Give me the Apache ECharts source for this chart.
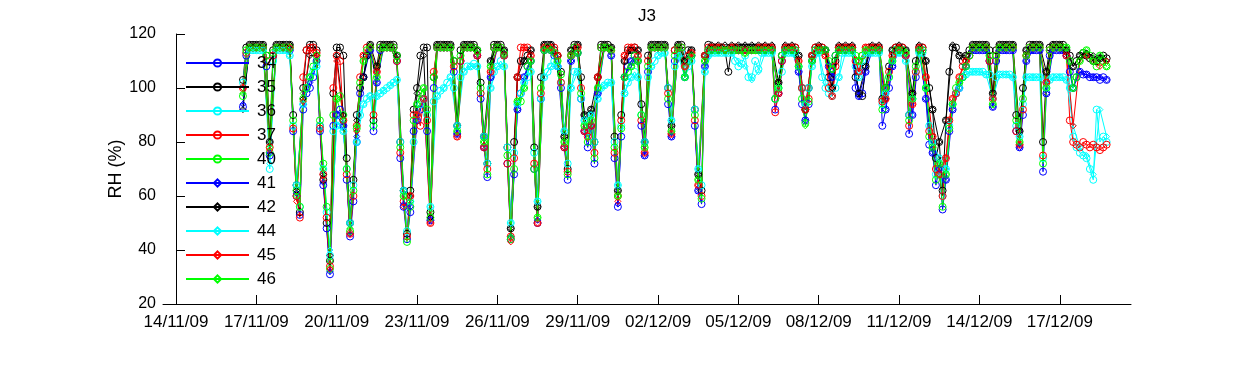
<!DOCTYPE html>
<html><head><meta charset="utf-8">
<script src="https://cdn.jsdelivr.net/npm/echarts@6/dist/echarts.min.js"></script>
<style>html,body{margin:0;padding:0;background:#fff}#c{width:1250px;height:365px}</style>
</head><body><div id="c"></div>
<script>
const chartTitle = 'J3';
const yAxisName = 'RH (%)';
// x axis: days since 14/11/09 00:00
const xTickDays = [0, 3, 6, 9, 12, 15, 18, 21, 24, 27, 30, 33];
const xTickLabels = ['14/11/09','17/11/09','20/11/09','23/11/09','26/11/09','29/11/09','02/12/09','05/12/09','08/12/09','11/12/09','14/12/09','17/12/09'];
const seriesNames = ['34','35','36','37','40','41','42','44','45','46'];
const seriesColors = ['#0000ff','#000000','#00ffff','#ff0000','#00ff00','#0000ff','#000000','#00ffff','#ff0000','#00ff00'];

// circle-marker sensors: readings every 3 h starting 16/11/09 12:00
const circleStartDay = 2.5, circleStepDay = 0.125;
const s34 = [93,112,115,115,
115,115,115,108,75,112,115,115,
115,115,114,84,60,53,92,98,
100,104,110,84,64,48,31,86,
90,92,86,66,45,58,80,98,
104,112,114,84,102,114,115,115,
115,115,110,74,56,44,54,84,
88,92,96,84,51,100,115,115,
115,115,115,106,83,110,115,115,
115,115,112,96,78,67,104,115,
115,115,112,72,44,68,92,98,
104,108,110,70,50,96,114,115,
114,112,108,100,78,66,110,115,
113,96,84,78,86,72,98,115,
115,115,112,74,56,82,104,108,
110,112,110,86,75,106,115,115,
115,115,115,94,82,110,115,115,
104,110,112,86,62,57,108,114,
114,114,114,114,114,114,114,114,
114,114,114,114,114,114,114,114,
114,114,114,92,98,110,114,114,
114,114,106,94,88,94,110,114,
114,114,114,108,104,112,114,114,
114,114,114,100,97,98,106,114,
114,114,114,86,92,100,108,114,
114,114,112,83,90,104,114,114,
96,79,76,64,70,55,66,84,
92,98,100,104,108,112,114,114,
114,114,114,110,93,110,114,114,
114,114,114,84,78,90,110,114,
114,114,114,69,98,112,114,114,
114,114,112,106,100,104,106,105,
105,104,104,104,103,104,103];
const s35 = [103,115,116,116,
116,116,116,112,80,114,116,116,
116,116,116,90,64,54,100,114,
116,116,114,86,66,50,36,98,
115,115,112,74,50,66,90,100,
104,112,116,88,108,116,116,116,
116,116,112,80,62,46,62,92,
100,112,115,115,54,104,116,116,
116,116,116,110,86,114,116,116,
116,116,114,102,82,72,110,116,
116,116,114,78,48,80,104,110,
110,112,114,78,56,104,116,116,
116,114,112,106,82,70,114,116,
116,104,90,84,92,80,104,116,
116,116,115,82,62,90,110,114,
114,115,114,94,80,112,116,116,
116,116,116,100,86,114,116,116,
110,114,114,92,68,62,112,116,
115,115,115,115,114,106,115,115,
115,115,115,115,115,115,115,115,
115,115,115,96,102,112,115,115,
115,115,112,100,92,100,112,115,
115,115,114,104,100,110,115,115,
115,115,115,104,98,97,108,115,
115,115,115,96,100,108,114,115,
115,115,114,90,98,110,115,115,
110,100,92,74,80,62,88,106,
115,115,112,110,112,114,116,116,
116,116,116,114,98,114,116,116,
116,116,116,90,84,100,114,116,
116,116,116,80,106,115,116,116,
116,116,114,112,108,110,112,113,
112,111,110,110,111,112,111];
const s36 = [102,113,114,114,
114,114,114,110,70,110,114,114,
114,114,112,86,64,56,94,100,
104,106,108,86,70,54,38,84,
86,88,84,70,50,64,80,90,
94,96,97,86,97,98,99,100,
101,102,103,80,62,47,58,80,
90,94,96,90,56,95,97,99,
100,102,104,100,86,104,106,108,
108,109,108,98,82,72,100,106,
108,110,108,78,50,76,94,98,
102,104,106,76,58,96,104,106,
108,110,108,102,84,72,100,106,
106,96,88,84,90,80,96,100,
101,102,102,80,64,86,98,102,
104,106,104,90,80,104,108,110,
112,113,113,100,88,108,112,113,
104,108,110,92,70,64,106,112,
113,113,113,113,113,113,113,110,
108,109,112,104,104,110,107,113,
113,113,113,96,100,106,113,113,
113,113,108,100,94,100,108,113,
113,104,100,98,97,100,104,113,
113,113,113,108,104,110,113,113,
113,113,113,94,98,104,110,113,
113,113,110,90,96,106,113,113,
100,86,80,68,74,60,70,86,
94,98,100,104,105,106,106,106,
106,106,105,105,96,104,105,105,
105,105,104,86,82,94,104,104,
104,104,104,74,100,103,104,104,
104,104,103,100,82,78,76,75,
74,70,66,92,80,82,80];
const s37 = [100,113,115,115,
115,115,115,110,78,112,115,115,
115,115,115,85,60,52,104,114,
115,115,113,85,68,52,34,100,
112,110,88,68,46,60,86,104,
112,115,115,90,106,115,115,115,
115,115,110,76,58,45,60,90,
90,86,96,88,50,106,115,115,
115,115,115,108,82,110,115,115,
115,115,112,98,78,70,106,115,
115,115,112,72,45,74,104,115,
115,115,112,72,50,98,115,115,
115,115,112,102,78,69,112,115,
115,100,84,82,86,76,104,115,
115,115,114,76,60,88,112,115,
115,115,112,88,76,110,115,115,
115,115,115,98,83,114,115,115,
108,112,113,88,64,60,112,115,
115,115,115,115,114,114,115,115,
114,114,114,114,114,114,115,115,
115,115,115,91,98,110,115,115,
115,115,110,100,92,96,112,115,
115,115,112,100,97,108,115,115,
115,115,115,110,106,112,115,115,
115,115,115,95,96,106,112,115,
115,115,112,86,94,106,115,115,
104,84,82,70,68,60,74,88,
96,98,104,108,110,112,115,115,
115,115,115,110,96,112,115,115,
115,115,115,84,79,92,112,115,
115,115,115,75,102,114,115,115,
115,115,112,88,80,79,78,80,
79,78,79,78,77,78,79];
const s40 = [97,114,115,115,
115,115,115,112,76,113,115,115,
115,115,115,88,62,56,96,100,
104,108,112,88,72,56,33,90,
96,97,90,70,47,62,85,102,
110,114,115,86,104,115,115,115,
115,115,112,78,60,43,56,88,
94,98,100,92,52,104,115,115,
115,115,115,110,84,112,115,115,
115,115,114,100,80,68,108,115,
115,115,113,75,44,70,95,95,
100,108,110,70,52,100,114,115,
114,113,110,105,80,68,112,115,
113,98,86,80,88,74,100,115,
115,115,114,78,60,85,104,106,
108,112,110,90,78,108,115,115,
115,115,115,96,84,112,115,115,
104,110,112,90,66,59,110,114,
114,114,114,114,114,114,114,114,
114,114,113,114,114,114,114,114,
114,114,114,96,100,112,114,114,
114,114,108,96,87,95,110,114,
114,114,114,110,107,112,114,114,
114,114,114,112,110,112,114,114,
114,114,114,92,100,104,110,114,
114,114,113,88,96,108,114,114,
100,82,78,66,72,56,68,85,
94,100,102,104,108,112,115,115,
115,115,115,112,94,112,115,115,
115,115,115,88,80,96,112,115,
115,115,115,72,100,114,115,115,
115,115,115,110,100,104,110,113,
114,112,110,108,112,110,108];

// diamond-marker sensors: readings every 6 h starting 16/11/09 12:00
const diamondStartDay = 2.5, diamondStepDay = 0.25;
const s41 = [94,115,
115,115,76,115, 115,114,61,94, 102,110,65,32, 90,86,46,82, 104,114,102,115,
115,110,57,56, 88,96,51,115, 115,115,83,115, 115,112,78,104, 115,112,45,92,
104,110,51,114, 114,108,78,110, 113,84,86,98, 115,112,57,104, 110,110,75,115,
115,115,82,115, 104,112,62,108, 114,114,114,114, 114,114,114,114, 114,114,98,114,
114,106,88,110, 114,114,104,114, 114,114,97,106, 114,114,92,108, 114,112,90,114,
96,76,70,66, 92,100,108,114, 114,114,93,114, 114,114,78,110, 114,114,98,114,
114,112,100,106, 105,104,104,103];
const s42 = [92,116,
116,116,80,116, 116,116,62,96, 112,112,68,38, 112,90,50,88, 104,116,108,116,
116,112,62,60, 98,112,52,116, 116,116,86,116, 116,114,82,110, 116,114,48,104,
110,114,56,116, 116,112,82,114, 116,90,92,104, 116,115,62,110, 114,114,80,116,
116,116,86,116, 110,114,68,112, 116,116,116,116, 116,116,116,116, 116,116,102,116,
116,112,92,112, 116,114,100,116, 116,116,98,108, 116,116,96,114, 116,114,98,116,
110,92,80,88, 116,112,112,116, 116,116,98,116, 116,116,84,114, 116,116,106,116,
116,114,108,112, 113,112,111,110];
const s44 = [100,114,
114,114,72,114, 114,112,64,94, 104,108,70,40, 86,84,50,80, 94,97,97,99,
101,103,62,58, 90,96,56,97, 100,104,86,106, 108,108,82,100, 108,108,50,94,
102,106,58,104, 108,108,84,100, 106,88,90,96, 101,102,64,98, 104,104,80,108,
112,113,88,112, 104,110,70,106, 113,113,113,113, 110,108,103,106, 113,113,100,113,
113,108,94,108, 113,102,97,104, 113,113,104,113, 113,113,98,110, 113,110,96,113,
100,80,74,70, 94,100,105,106, 106,105,96,105, 105,104,82,104, 104,104,100,104,
104,103,86,78, 75,68,92,82];
const s45 = [100,115,
115,115,77,115, 115,115,58,95, 114,112,66,33, 110,88,46,84, 112,115,106,115,
115,110,56,60, 90,96,50,115, 115,115,82,115, 115,112,78,106, 115,112,43,104,
115,112,50,115, 115,112,78,112, 115,84,86,104, 115,114,58,112, 115,112,76,115,
115,115,83,115, 108,113,64,112, 115,115,114,115, 114,114,114,115, 115,115,98,115,
115,110,92,112, 115,112,97,115, 115,115,106,115, 115,115,96,112, 115,112,94,115,
104,82,68,74, 96,104,110,115, 115,115,96,115, 115,115,79,112, 115,115,102,115,
115,112,86,110, 112,110,108,110];
const s46 = [98,115,
115,115,78,115, 115,114,60,98, 104,110,70,36, 96,88,48,86, 110,115,104,115,
115,110,60,58, 94,100,54,115, 115,115,84,115, 115,113,80,108, 115,112,45,95,
100,110,52,114, 114,110,80,112, 113,86,88,100, 115,114,60,104, 108,110,78,115,
115,115,84,115, 104,112,66,110, 114,114,114,114, 114,113,114,114, 114,114,100,114,
114,108,86,110, 114,114,107,114, 114,114,110,114, 114,114,100,110, 114,113,96,114,
100,78,72,68, 94,102,108,115, 115,115,94,115, 115,115,80,112, 115,115,100,115,
115,115,100,110, 114,110,112,108];

const circleData = [s34, s35, s36, s37, s40];
const diamondData = [s41, s42, s44, s45, s46];

function toPairs(vals, start, step) {
  return vals.map((v, i) => [start + i * step, v]);
}

const series = [];
seriesNames.forEach((name, k) => {
  const isCircle = k < 5;
  const vals = isCircle ? circleData[k] : diamondData[k - 5];
  const data = isCircle ? toPairs(vals, circleStartDay, circleStepDay) : toPairs(vals, diamondStartDay, diamondStepDay);
  const col = seriesColors[k];
  series.push({
    name: name,
    type: 'line',
    data: data,
    symbol: isCircle ? 'circle' : 'diamond',
    symbolSize: isCircle ? 7 : 6,
    showAllSymbol: true,
    lineStyle: { width: 1, color: col },
    itemStyle: { color: 'rgba(0,0,0,0)', borderColor: col, borderWidth: 1 },
    emphasis: { disabled: true },
    silent: true,
    animation: false
  });
});

const chart = echarts.init(document.getElementById('c'), null, { renderer: 'canvas' });
chart.setOption({
  animation: false,
  backgroundColor: '#ffffff',
  textStyle: { fontFamily: 'Liberation Sans, Arial, sans-serif' },
  title: {
    text: chartTitle, left: 633, top: 3,
    textStyle: { fontSize: 17, fontWeight: 'normal', color: '#000', fontFamily: 'Liberation Sans, Arial, sans-serif' }
  },
  legend: {
    orient: 'vertical', left: 180, top: 49,
    itemWidth: 63, itemHeight: 9, itemGap: 6,
    data: seriesNames,
    textStyle: { fontSize: 17, color: '#000', lineHeight: 18, padding: [0, 0, 0, 3], fontFamily: 'Liberation Sans, Arial, sans-serif' },
    selectedMode: false
  },
  grid: { left: 163, right: 119, top: 34, bottom: 61 },
  xAxis: {
    type: 'value', min: -0.485, max: 35.66,
    axisLine: { show: true, lineStyle: { color: '#000', width: 1 } },
    axisTick: { show: true, inside: true, length: 9, customValues: xTickDays, lineStyle: { color: '#000' } },
    axisLabel: {
      customValues: xTickDays, color: '#000', fontSize: 17, margin: 10,
      formatter: function (v) { const i = xTickDays.indexOf(Math.round(v)); return i >= 0 ? xTickLabels[i] : ''; }
    },
    splitLine: { show: false }
  },
  yAxis: {
    type: 'value', min: 20, max: 120, interval: 20,
    name: yAxisName, nameLocation: 'middle', nameGap: 38, nameMoveOverlap: false,
    nameTextStyle: { fontSize: 18, color: '#000' },
    axisLine: { show: true, lineStyle: { color: '#000', width: 1 } },
    axisTick: { show: true, inside: true, length: 9, lineStyle: { color: '#000' } },
    axisLabel: { color: '#000', fontSize: 16, margin: 7 },
    splitLine: { show: false }
  },
  series: series
});
</script>
</body></html>
